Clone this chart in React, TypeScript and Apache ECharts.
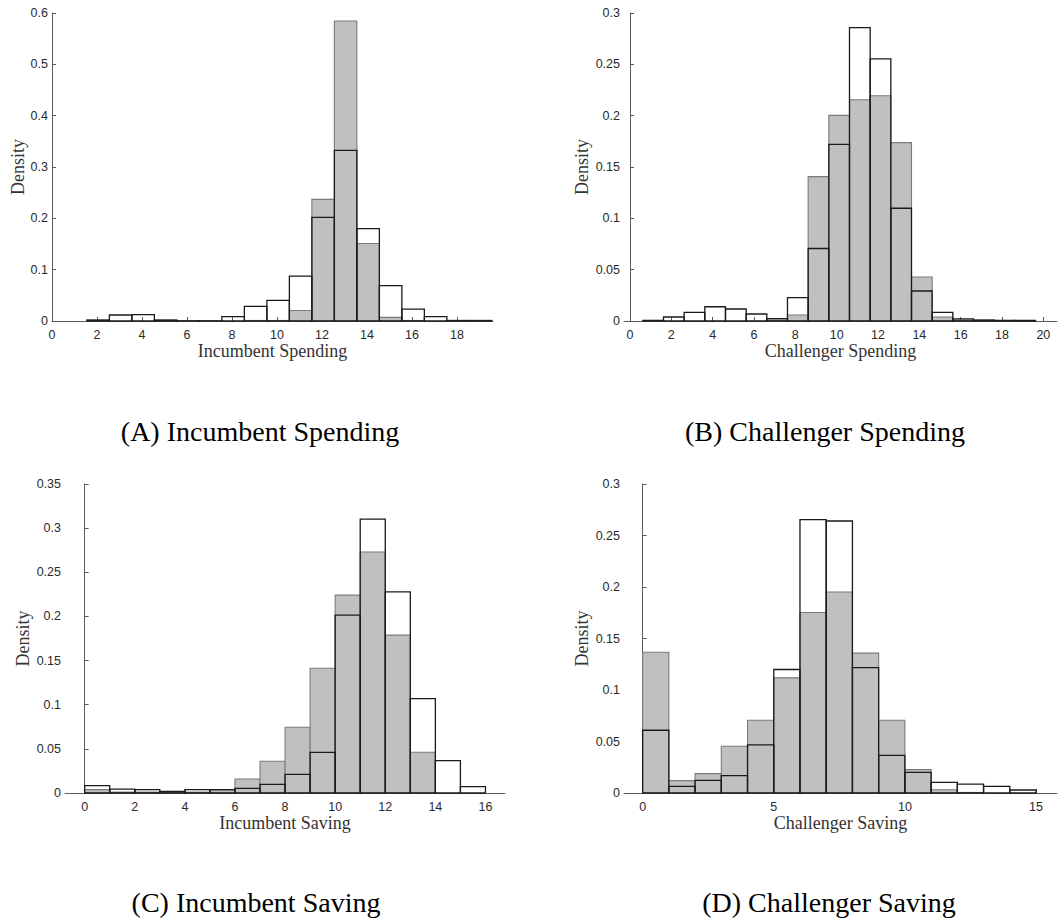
import React, { useEffect, useRef } from "react";
import * as echarts from "echarts";

// Histogram densities, unit-width bins starting at the given left edge.
// "outline" = black-edged open bars, "shaded" = grey filled bars.
const incSpendStart = 1.55;
const incSpendOutline = [0.002, 0.0117, 0.0123, 0.002, 0.0005, 0.0005, 0.0084, 0.0284, 0.04, 0.0875, 0.202, 0.3325, 0.18, 0.069, 0.0233, 0.0084, 0.001, 0.001];
const incSpendShaded = [0, 0, 0, 0, 0, 0, 0, 0.001, 0.001, 0.0206, 0.237, 0.5845, 0.151, 0.007, 0.001, 0, 0, 0];

const chalSpendStart = 0.62;
const chalSpendOutline = [0.0006, 0.0039, 0.0084, 0.0139, 0.0117, 0.0068, 0.0023, 0.0227, 0.0706, 0.172, 0.2858, 0.2553, 0.1098, 0.0292, 0.0084, 0.002, 0.001, 0.0006, 0.0006];
const chalSpendShaded = [0, 0, 0, 0, 0, 0, 0.001, 0.0058, 0.1406, 0.2003, 0.2155, 0.2194, 0.1737, 0.0428, 0.0039, 0.001, 0, 0, 0];

const incSaveStart = 0;
const incSaveOutline = [0.0083, 0.0045, 0.0038, 0.0019, 0.0038, 0.0038, 0.0053, 0.0098, 0.0212, 0.0461, 0.2014, 0.3103, 0.2279, 0.107, 0.0367, 0.0072];
const incSaveShaded = [0.0038, 0.001, 0.001, 0.001, 0.001, 0.0034, 0.0159, 0.0359, 0.0745, 0.1413, 0.2241, 0.2729, 0.1788, 0.0461, 0, 0];

const chalSaveStart = 0;
const chalSaveOutline = [0.0609, 0.0065, 0.0123, 0.0168, 0.0467, 0.1199, 0.2654, 0.2641, 0.1218, 0.0366, 0.0201, 0.0104, 0.0087, 0.0065, 0.0029];
const chalSaveShaded = [0.1367, 0.012, 0.0188, 0.0454, 0.0706, 0.1118, 0.1753, 0.1951, 0.1358, 0.0706, 0.0227, 0.0032, 0.0005, 0, 0];

// Axis tick labels
const spendTicks = [0, 2, 4, 6, 8, 10, 12, 14, 16, 18];
const chalSpendTicks = [0, 2, 4, 6, 8, 10, 12, 14, 16, 18, 20];
const incSaveTicks = [0, 2, 4, 6, 8, 10, 12, 14, 16];
const chalSaveTicks = [0, 5, 10, 15];

const xLabels = ["Incumbent Spending", "Challenger Spending", "Incumbent Saving", "Challenger Saving"];
const captions = ["(A) Incumbent Spending", "(B) Challenger Spending", "(C) Incumbent Saving", "(D) Challenger Saving"];

const SERIF = "'Liberation Serif', 'Times New Roman', serif";
const SANS = "'Liberation Sans', Arial, sans-serif";

const toBins = (start: number, vals: number[]) =>
  vals.map((v, i) => [start + i, start + i + 1, v]);

const barRenderer = (fill: string, stroke: string, lineWidth: number) =>
  (params: any, api: any) => {
    const x0 = api.value(0);
    const x1 = api.value(1);
    const h = api.value(2);
    const p0 = api.coord([x0, 0]);
    const p1 = api.coord([x1, h]);
    return {
      type: "rect",
      shape: { x: p0[0], y: p1[1], width: p1[0] - p0[0], height: p0[1] - p1[1] },
      style: { fill, stroke, lineWidth },
    };
  };

export default function App() {
  const ref = useRef<HTMLDivElement>(null);

  useEffect(() => {
    document.body.style.margin = "0";
    if (!ref.current) return;
    const chart = echarts.init(ref.current, undefined, { renderer: "svg" });

    const panels = [
      { start: incSpendStart, outline: incSpendOutline, shaded: incSpendShaded, xmin: 0, xmax: 19.6, ymax: 0.6, yint: 0.1, ticks: spendTicks, grid: { left: 52, top: 13, width: 441, height: 308 }, nameGap: 25 },
      { start: chalSpendStart, outline: chalSpendOutline, shaded: chalSpendShaded, xmin: -0.29, xmax: 20.66, ymax: 0.3, yint: 0.05, ticks: chalSpendTicks, grid: { left: 624, top: 13, width: 433, height: 308 }, nameGap: 33 },
      { start: incSaveStart, outline: incSaveOutline, shaded: incSaveShaded, xmin: -0.785, xmax: 16.78, ymax: 0.35, yint: 0.05, ticks: incSaveTicks, grid: { left: 65, top: 484, width: 440, height: 309 }, nameGap: 33 },
      { start: chalSaveStart, outline: chalSaveOutline, shaded: chalSaveShaded, xmin: -0.71, xmax: 15.8, ymax: 0.3, yint: 0.05, ticks: chalSaveTicks, grid: { left: 624, top: 484, width: 433, height: 309 }, nameGap: 33 },
    ];

    const axisLine = { show: true, lineStyle: { color: "#5a5a5a", width: 1 } };
    const axisTick = { show: true, inside: true, length: 4, lineStyle: { color: "#5a5a5a", width: 1 } };

    const option: any = {
      animation: false,
      backgroundColor: "#ffffff",
      grid: panels.map((p) => ({ ...p.grid, containLabel: false })),
      xAxis: panels.map((p, i) => ({
        type: "value",
        gridIndex: i,
        min: p.xmin,
        max: p.xmax,
        axisLine,
        axisTick: { ...axisTick, customValues: p.ticks },
        axisLabel: { customValues: p.ticks, color: "#2a2a2a", fontFamily: SANS, fontSize: 12.5, margin: 7 },
        splitLine: { show: false },
        name: xLabels[i],
        nameLocation: "middle",
        nameGap: 21,
        nameTextStyle: { fontFamily: SERIF, fontSize: 18, color: "#333", verticalAlign: "top" },
      })),
      yAxis: panels.map((p, i) => ({
        type: "value",
        gridIndex: i,
        min: 0,
        max: p.ymax,
        interval: p.yint,
        axisLine,
        axisTick,
        axisLabel: { color: "#2a2a2a", fontFamily: SANS, fontSize: 12.5, margin: 4 },
        splitLine: { show: false },
        name: "Density",
        nameLocation: "middle",
        nameGap: p.nameGap,
        nameTextStyle: { fontFamily: SERIF, fontSize: 18, color: "#333" },
      })),
      series: panels.flatMap((p, i) => [
        {
          type: "custom",
          xAxisIndex: i,
          yAxisIndex: i,
          renderItem: barRenderer("#c0c0c0", "#7a7a7a", 1.1),
          encode: { x: [0, 1], y: 2 },
          data: toBins(p.start, p.shaded).filter((d) => d[2] > 0),
          z: 2,
        },
        {
          type: "custom",
          xAxisIndex: i,
          yAxisIndex: i,
          renderItem: barRenderer("none", "#1a1a1a", 1.3),
          encode: { x: [0, 1], y: 2 },
          data: toBins(p.start, p.outline),
          z: 3,
        },
      ]),
      graphic: [
        { x: 260, y: 431 },
        { x: 825, y: 431 },
        { x: 256, y: 902 },
        { x: 829, y: 902 },
      ].map((pos, i) => ({
        type: "text",
        x: pos.x,
        y: pos.y,
        style: {
          text: captions[i],
          fontFamily: SERIF,
          fontSize: 28,
          fill: "#000",
          align: "center",
          verticalAlign: "middle",
        },
      })),
    };

    chart.setOption(option);
    return () => chart.dispose();
  }, []);

  return <div ref={ref} style={{ width: 1062, height: 923 }} />;
}
